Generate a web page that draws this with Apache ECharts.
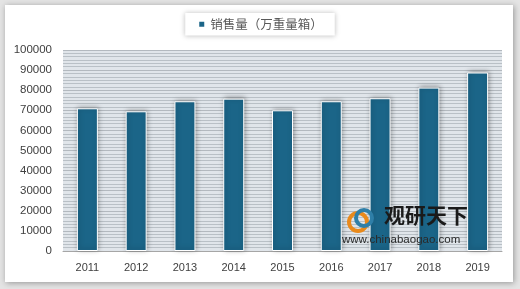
<!DOCTYPE html>
<html><head><meta charset="utf-8">
<script src="https://cdn.jsdelivr.net/npm/echarts@6/dist/echarts.min.js"></script>
<style>html,body{margin:0;padding:0;background:#e4e4e4;}#c{width:520px;height:289px;}</style>
</head><body><div id="c"></div>
<script>
const categories = ['2011','2012','2013','2014','2015','2016','2017','2018','2019'];
const salesValues = [71000, 69500, 74500, 75800, 70000, 74500, 76000, 81300, 88800];
const seriesName = '销售量（万重量箱）';
const yTicks = [0, 10000, 20000, 30000, 40000, 50000, 60000, 70000, 80000, 90000, 100000];

const chart = echarts.init(document.getElementById('c'), null, {renderer:'canvas'});
chart.setOption({
  backgroundColor: '#e4e4e4',
  animation: false,
  graphic: [
    {type:'rect', left:5, top:5, shape:{width:508, height:277},
     style:{fill:'#ffffff', shadowBlur:6, shadowColor:'rgba(0,0,0,0.35)', shadowOffsetX:1, shadowOffsetY:1}, z:-10},
    {type:'text', left:384, top:205, style:{text:'观研天下', font:'bold 21px "Noto Sans CJK SC"', fill:'#1a1a1a'}, z:50},
    {type:'text', left:342, top:234, style:{text:'www.chinabaogao.com', font:'11.5px "Liberation Sans"', fill:'#2a2a2a'}, z:50},
    {type:'circle', shape:{cx:358, cy:222, r:9}, style:{fill:'none', stroke:'#e98a1c', lineWidth:4}, z:49},
    {type:'circle', shape:{cx:364, cy:218, r:8}, style:{fill:'none', stroke:'#2f7fa8', lineWidth:4}, z:49}
  ],
  legend: {
    top: 13, left: 'center',
    itemWidth: 7, itemHeight: 7, icon: 'rect',
    backgroundColor: '#ffffff',
    padding: [5, 12, 5, 12],
    shadowBlur: 5, shadowColor: 'rgba(0,0,0,0.25)',
    textStyle: {color:'#595959', fontSize:12.5, fontFamily:'"Noto Sans CJK SC"'},
    data: [seriesName]
  },
  grid: {left:63, right:18, top:50, bottom:38, show:true, backgroundColor:'#e0e5ea', borderWidth:0},
  xAxis: {
    type:'category', data: categories,
    axisLine:{show:true, lineStyle:{color:'#a6a6a6', width:1}},
    axisTick:{show:false},
    axisLabel:{color:'#404040', fontSize:11, fontFamily:'"Liberation Sans"', margin:11}
  },
  yAxis: {
    type:'value', min: yTicks[0], max: yTicks[yTicks.length-1], interval: 10000,
    axisLine:{show:false}, axisTick:{show:false},
    axisLabel:{color:'#404040', fontSize:11.5, fontFamily:'"Liberation Sans"', margin:11,
      formatter: function(v){ return String(v); }},
    splitLine:{show:true, lineStyle:{color:'#b3b9bf', width:1}},
    minorTick:{show:false, splitNumber:6},
    minorSplitLine:{show:true, lineStyle:{color:'#b9c0c6', width:1}}
  },
  series: [{
    name: seriesName, type:'bar', data: salesValues, barWidth: 21,
    itemStyle: {color:'#1b6588', borderColor:'#ffffff', borderWidth:1,
      shadowBlur:5, shadowColor:'rgba(0,0,0,0.35)', shadowOffsetX:1, shadowOffsetY:-1}
  }]
});
</script></body></html>
